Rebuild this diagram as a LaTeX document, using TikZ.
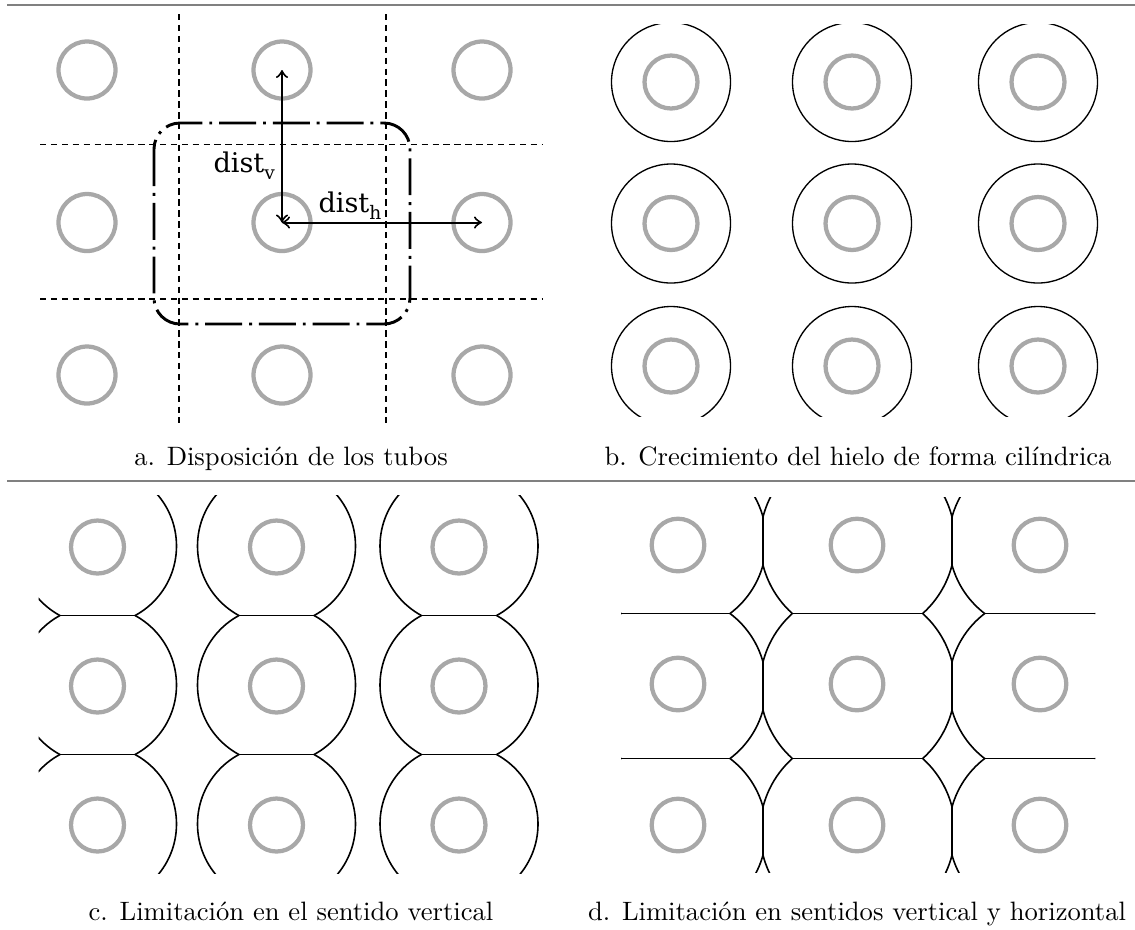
\documentclass[tikz,border=0pt]{standalone}
\usepackage{fontspec}
\newfontfamily\dimfont{DejaVu Serif}
\usetikzlibrary{arrows.meta}
\definecolor{tubegray}{RGB}{168,168,168}
\definecolor{rulegray}{RGB}{128,128,128}
\begin{document}
\begin{tikzpicture}[x=0.376pt, y=-0.376pt,
  tube/.style={draw=tubegray, line width=1.6pt},
  ice/.style={draw=black, line width=0.6pt},
  thinice/.style={draw=black, line width=0.5pt},
  gridline/.style={draw=black, line width=0.5pt, dash pattern=on 2.4pt off 1.7pt},
  cellbox/.style={draw=black, line width=1.1pt, dash pattern=on 13.9pt off 2.6pt on 1.1pt off 2.6pt, rounded corners=9.8pt},
  dimline/.style={{Classical TikZ Rightarrow[length=3pt,width=4.6pt]}-{Classical TikZ Rightarrow[length=3pt,width=4.6pt]}, line width=0.75pt},
  sep/.style={draw=rulegray, line width=0.9pt},
  caption/.style={anchor=base, inner sep=0pt, font=\fontsize{10}{12}\selectfont},
  dimlabel/.style={anchor=base west, inner sep=0pt, font=\dimfont\fontsize{10.2}{12}\selectfont}
]
\useasboundingbox (0,0) rectangle (1135,929);

% separators
\draw[sep] (7,5) -- (1135,5);
\draw[sep] (7,481) -- (1135,481);

% ---------- a: tube layout ----------
\draw[gridline] (179,14) -- (179,423);
\draw[gridline] (386,14) -- (386,423);
\draw[gridline] (40,144.5) -- (542,144.5);
\draw[gridline] (40,299) -- (542,299);
\draw[cellbox] (154,123) rectangle (410,324);
\foreach \cx/\c in {87/1,282/2,482/3}
  \foreach \cy/\r in {70/1,222.5/2,375/3}{
    \coordinate (a\r\c) at (\cx,\cy);
    \draw[tube] (\cx,\cy) circle (28.5);
  }
\draw[dimline] (a22) -- (a12);
\draw[dimline] (a22) -- (a23);
\node[dimlabel] (distv) at (213,172) {dist\raisebox{-3pt}{\fontsize{7}{8}\selectfont v}};
\node[dimlabel] (disth) at (318,212) {dist\raisebox{-3pt}{\fontsize{7}{8}\selectfont h}};
\node[caption] (capa) at (291,465) {a. Disposición de los tubos};

% ---------- b: free cylindrical growth ----------
\begin{scope}
  \clip (560,24) rectangle (1135,416);
  \foreach \cx in {671,852,1038}
    \foreach \cy in {82,223.5,366}
      \draw[thinice] (\cx,\cy) circle (59.5);
\end{scope}
\foreach \cx in {671,852,1038}
  \foreach \cy in {82,223.5,366}
    \draw[tube] (\cx,\cy) circle (26.5);
\node[caption] (capb) at (858,465) {b. Crecimiento del hielo de forma cilíndrica};

% ---------- c: limited vertically ----------
\begin{scope}
  \clip (38.5,495) rectangle (560,873);
  \foreach \cx in {97.5,276.5,459}
    \foreach \cy/\tp/\bt in {546/400/615.5,685/615.5/754.5,824/754.5/950}{
      \begin{scope}
        \clip (\cx-100,\tp) rectangle (\cx+100,\bt);
        \draw[ice] (\cx,\cy) circle (79);
      \end{scope}
      \begin{scope}
        \clip (\cx,\cy) circle (79);
        \draw[ice] (\cx-100,\tp) rectangle (\cx+100,\bt);
      \end{scope}
    }
\end{scope}
\foreach \cx in {97.5,276.5,459}
  \foreach \cy in {547,686,825}
    \draw[tube] (\cx,\cy) circle (26.5);
\node[caption] (capc) at (291,920) {c. Limitación en el sentido vertical};

% ---------- d: limited vertically and horizontally ----------
\begin{scope}
  \clip (621,497) rectangle (1095,872);
  \foreach \cx/\rr/\lo/\hi in {675.5/90.7/500/763,857.5/97.5/763/952,1040/91.2/952/1200}
    \foreach \cy/\tp/\bt in {541/400/613.5,686/613.5/758.5,831/758.5/950}{
      \begin{scope}
        \clip (\lo,\tp) rectangle (\hi,\bt);
        \draw[ice] (\cx,\cy) circle (\rr);
      \end{scope}
      \begin{scope}
        \clip (\cx,\cy) circle (\rr);
        \draw[ice] (\lo,\tp) rectangle (\hi,\bt);
      \end{scope}
    }
\end{scope}
\foreach \cx in {678,857,1040}
  \foreach \cy in {545,684,825}
    \draw[tube] (\cx,\cy) circle (26.3);
\node[caption] (capd) at (857,920) {d. Limitación en sentidos vertical y horizontal};

\end{tikzpicture}
\end{document}
